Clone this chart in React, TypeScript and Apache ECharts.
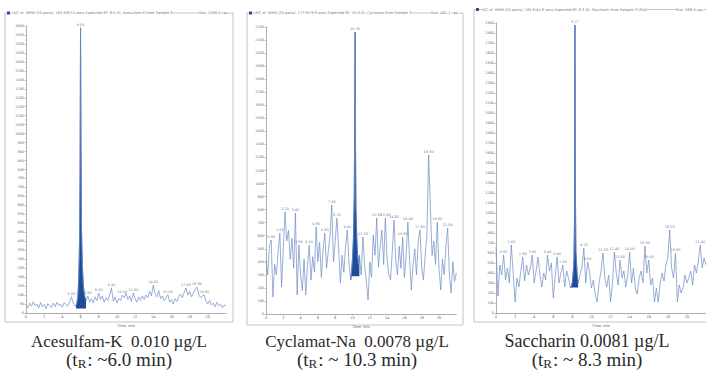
import React, { useEffect, useRef } from "react";
import * as echarts from "echarts";

// sampling step of the noise traces (min)
const STEP = 0.2;
const TIME_MAX = 22;
const TIME_TICK = 2;

// ---------- Acesulfam-K ----------
const acesulfamNoise = [
  45, 30, 55, 38, 62, 40, 50, 28, 58, 35,
  48, 25, 52, 40, 30, 55, 35, 60, 42, 50,
  33, 58, 45, 38, 62, 90, 55, 40, 35, 30,
  40, 45, 50, 70, 95, 60, 80, 55, 90, 70,
  110, 75, 95, 60, 85, 70, 100, 140, 65, 90,
  55, 80, 70, 100, 85, 110, 75, 95, 65, 112,
  80, 60, 90, 70, 95, 75, 100, 85, 120, 95,
  156, 110, 90, 125, 80, 95, 70, 85, 102, 60,
  75, 50, 80, 65, 90, 105, 85, 115, 140, 100,
  120, 90, 110, 130, 145, 105, 85, 95, 100, 65,
  50, 70, 45, 55, 35, 60, 40, 50, 30, 45, 38,
];
const acesulfamPeakTimes = [5.5, 5.6, 5.7, 5.8, 5.9, 5.95, 6.0, 6.05, 6.1, 6.2, 6.3, 6.4, 6.5, 6.6];
const acesulfamPeakValues = [40, 55, 90, 190, 420, 820, 1590, 940, 480, 260, 160, 110, 85, 70];
const acesulfamBaseline = 25;
const acesulfamLabelTimes = [5.0, 6.0, 6.8, 8.0, 9.4, 10.6, 11.8, 14.0, 15.6, 17.6, 18.8, 19.6];

// ---------- Cyclamat-Na ----------
const cyclamatNoise = [
  414, 300, 520, 567, 130, 380, 300, 480, 620, 207,
  500, 782, 560, 640, 420, 580, 350, 774, 146, 529,
  300, 180, 420, 146, 380, 529, 260, 440, 320, 667,
  400, 550, 280, 500, 620, 350, 480, 600, 836, 400,
  560, 735, 500, 238, 450, 320, 520, 644, 380, 260,
  300, 320, 330, 350, 450, 300, 590, 380, 250, 107,
  400, 280, 606, 450, 735, 360, 520, 644, 380, 735,
  420, 300, 260, 480, 720, 400, 300, 520, 350, 590,
  280, 450, 705, 420, 184, 380, 500, 300, 560, 644,
  360, 260, 450, 600, 1219, 812, 450, 560, 380, 705,
  350, 184, 420, 300, 520, 659, 300, 161, 400, 250, 314,
];
const cyclamatPeakTimes = [9.8, 9.9, 10.0, 10.1, 10.2, 10.25, 10.3, 10.35, 10.4, 10.5, 10.6, 10.7, 10.8];
const cyclamatPeakValues = [260, 330, 430, 570, 900, 1400, 2160, 1300, 820, 580, 440, 380, 450];
const cyclamatBaseline = 290;
const cyclamatLabelTimes = [0.6, 1.6, 2.2, 3.4, 3.8, 5.0, 5.8, 6.8, 7.6, 8.2, 9.4, 10.3, 11.2, 12.8, 13.8, 14.8, 15.8, 16.4, 17.8, 18.8, 19.8, 21.0];

// ---------- Saccharin ----------
const saccharinNoise = [
  660, 170, 480, 380, 580, 330, 450, 300, 680, 400,
  110, 350, 260, 420, 560, 320, 480, 380, 450, 580,
  300, 420, 560, 380, 260, 400, 330, 580, 420, 500,
  150, 360, 560, 300, 400, 480, 260, 420, 350, 250,
  260, 280, 300, 300, 380, 460, 650, 300, 510, 410,
  250, 330, 180, 110, 300, 420, 600, 350, 260, 380,
  110, 300, 610, 400, 280, 530, 350, 420, 260, 380,
  610, 300, 450, 250, 190, 350, 420, 300, 670, 400,
  530, 280, 350, 110, 250, 110, 300, 400, 320, 480,
  550, 830, 450, 350, 600, 110, 280, 200, 250, 380,
  300, 350, 420, 280, 480, 400, 520, 680, 450, 550, 480,
];
const saccharinPeakTimes = [7.8, 7.9, 8.0, 8.1, 8.17, 8.22, 8.27, 8.32, 8.37, 8.45, 8.5, 8.6];
const saccharinPeakValues = [250, 270, 310, 420, 540, 900, 2880, 1200, 620, 480, 400, 300];
const saccharinBaseline = 255;
const saccharinLabelTimes = [0.8, 1.6, 2.8, 3.8, 5.4, 6.4, 7.0, 8.27, 9.2, 9.6, 11.2, 12.4, 13.0, 14.0, 15.6, 16.0, 18.2, 18.8, 21.4];

// ---------- axes ----------
const yMaxes = [1600, 2200, 2900];
const yIntervals = [50, 100, 100];

// ---------- captions ----------
const captionNames = ["Acesulfam-K  0.010 µg/L", "Cyclamat-Na  0.0078 µg/L", "Saccharin 0.0081 µg/L"];
const captionTimes = [": ~6.0 min)", ": ~ 10.3 min)", ": ~ 8.3 min)"];
const headerTexts = [
  "XIC of -MRM (20 pairs): 161.9/82.0 amu Expected RT: 6.0 ID: Acesulfam-K from Sample 3",
  "XIC of -MRM (20 pairs): 177.9/79.9 amu Expected RT: 10.3 ID: Cyclamat from Sample 3",
  "XIC of -MRM (20 pairs): 181.9/41.9 amu Expected RT: 8.3 ID: Saccharin from Sample 3 (Std)",
];
const headerMax = ["Max. 1590.0 cps.", "Max. 461.1 cps.", "Max. 588.0 cps."];

function buildTrace(noise: number[], peakT: number[], peakV: number[]) {
  const t0 = peakT[0];
  const t1 = peakT[peakT.length - 1];
  const pts: number[][] = [];
  noise.forEach((v, i) => {
    const t = +(i * STEP).toFixed(2);
    if (t < t0 - 1e-6 || t > t1 + 1e-6) pts.push([t, v]);
  });
  peakT.forEach((t, i) => pts.push([t, peakV[i]]));
  pts.sort((a, b) => a[0] - b[0]);
  return pts;
}

function buildLabels(trace: number[][], times: number[]) {
  return times.map((t) => {
    let best = 0;
    trace.forEach((p) => {
      if (Math.abs(p[0] - t) < 0.06 && p[1] > best) best = p[1];
    });
    return [t, best];
  });
}

export default function App() {
  const ref = useRef<HTMLDivElement>(null);
  useEffect(() => {
    if (!ref.current) return;
    const chart = echarts.init(ref.current, undefined, { renderer: "svg" });

    const panels = [
      { noise: acesulfamNoise, pt: acesulfamPeakTimes, pv: acesulfamPeakValues, lt: acesulfamLabelTimes, base: acesulfamBaseline },
      { noise: cyclamatNoise, pt: cyclamatPeakTimes, pv: cyclamatPeakValues, lt: cyclamatLabelTimes, base: cyclamatBaseline },
      { noise: saccharinNoise, pt: saccharinPeakTimes, pv: saccharinPeakValues, lt: saccharinLabelTimes, base: saccharinBaseline },
    ];

    const grids = [
      { left: 26, top: 26, width: 200, height: 287 },
      { left: 266, top: 27, width: 190.3, height: 287 },
      { left: 496, top: 23, width: 214.5, height: 290 },
    ];
    const frames = [
      { x: 5, y: 13, w: 228, h: 309 },
      { x: 247, y: 13, w: 216, h: 312 },
      { x: 474, y: 9.5, w: 245, h: 312.5 },
    ];
    const captionCenters = [119, 357, 587];
    const captionSizes = [17, 17, 18];

    const axisColor = "#9a9a9a";
    const series: any[] = [];
    panels.forEach((p, i) => {
      const trace = buildTrace(p.noise, p.pt, p.pv);
      const peak = p.pt.map((t, k) => [t, p.pv[k]]);
      series.push({
        type: "line",
        xAxisIndex: i,
        yAxisIndex: i,
        data: peak,
        symbol: "none",
        lineStyle: { color: "#2c59a6", width: 0.8 },
        areaStyle: { color: "#1f4c9a", opacity: 1, origin: p.base },
        silent: true,
      });
      series.push({
        type: "line",
        xAxisIndex: i,
        yAxisIndex: i,
        data: trace,
        symbol: "none",
        lineStyle: { color: "#6b8cc3", width: 0.7 },
        silent: true,
      });
      series.push({
        type: "scatter",
        xAxisIndex: i,
        yAxisIndex: i,
        data: buildLabels(trace, p.lt),
        symbolSize: 0,
        silent: true,
        label: {
          show: true,
          position: "top",
          distance: 1,
          fontSize: 3.5,
          color: "#555",
          fontFamily: "DejaVu Sans",
          formatter: (q: any) => q.value[0].toFixed(2),
        },
      });
    });

    const graphics: any[] = [];
    frames.forEach((f, i) => {
      graphics.push({
        type: "rect",
        shape: { x: f.x, y: f.y, width: f.w, height: f.h },
        style: { fill: "none", stroke: "#c4c4c4", lineWidth: 1 },
        silent: true,
        z: -1,
      });
      graphics.push({
        type: "rect",
        shape: { x: f.x + 2, y: f.y - 1.5, width: 3, height: 3 },
        style: { fill: "#2c4f8f" },
        silent: true,
      });
      graphics.push({
        type: "text",
        x: f.x + 8,
        y: f.y,
        style: {
          text: headerTexts[i],
          fontSize: 3.6,
          fontFamily: "DejaVu Sans",
          fill: "#777",
          verticalAlign: "middle",
          backgroundColor: "#fff",
        },
        silent: true,
      });
      graphics.push({
        type: "text",
        x: Math.min(f.x + f.w - 4, 704),
        y: f.y,
        style: {
          text: headerMax[i],
          fontSize: 3.6,
          fontFamily: "DejaVu Sans",
          fill: "#777",
          align: "right",
          verticalAlign: "middle",
          backgroundColor: "#fff",
        },
        silent: true,
      });
      graphics.push({
        type: "text",
        x: captionCenters[i],
        y: 341,
        style: {
          text: captionNames[i],
          fontSize: captionSizes[i],
          fontFamily: "Liberation Serif",
          fill: "#2a2a2a",
          align: "center",
          verticalAlign: "middle",
        },
        silent: true,
      });
      graphics.push({
        type: "text",
        x: captionCenters[i],
        y: 359.5,
        style: {
          text: "{a|(t}{s|R}{a|" + captionTimes[i] + "}",
          align: "center",
          verticalAlign: "middle",
          rich: {
            a: { fontSize: 19, fontFamily: "Liberation Serif", fill: "#2a2a2a", lineHeight: 18 },
            s: { fontSize: 13, fontFamily: "Liberation Serif", fill: "#2a2a2a", lineHeight: 14, padding: [7, 1, 0, 0] },
          },
        },
        silent: true,
      });
    });

    chart.setOption({
      animation: false,
      backgroundColor: "#ffffff",
      grid: grids.map((g) => ({ ...g, containLabel: false })),
      xAxis: grids.map((_, i) => ({
        type: "value",
        gridIndex: i,
        min: 0,
        max: TIME_MAX,
        interval: TIME_TICK,
        name: "Time, min",
        nameLocation: "middle",
        nameGap: 8,
        nameTextStyle: { fontSize: 3.6, color: "#666", fontFamily: "DejaVu Sans" },
        axisLine: { lineStyle: { color: axisColor, width: 0.8 } },
        axisTick: { length: 1.5, lineStyle: { color: axisColor, width: 0.6 } },
        axisLabel: { fontSize: 3.6, color: "#666", margin: 2, fontFamily: "DejaVu Sans", showMaxLabel: false },
        splitLine: { show: false },
      })),
      yAxis: grids.map((_, i) => ({
        type: "value",
        gridIndex: i,
        min: 0,
        max: yMaxes[i],
        interval: yIntervals[i],
        axisLine: { show: true, lineStyle: { color: axisColor, width: 0.8 } },
        axisTick: { show: true, length: 1.5, lineStyle: { color: axisColor, width: 0.6 } },
        axisLabel: {
          fontSize: 3.4,
          color: "#666",
          margin: 2,
          fontFamily: "DejaVu Sans",
          formatter: (v: number) => String(v),
        },
        splitLine: { show: false },
      })),
      series,
      graphic: graphics,
    });

    return () => chart.dispose();
  }, []);

  return (
    <div
      ref={ref}
      style={{ position: "fixed", left: 0, top: 0, width: 706, height: 371, background: "#fff" }}
    />
  );
}
